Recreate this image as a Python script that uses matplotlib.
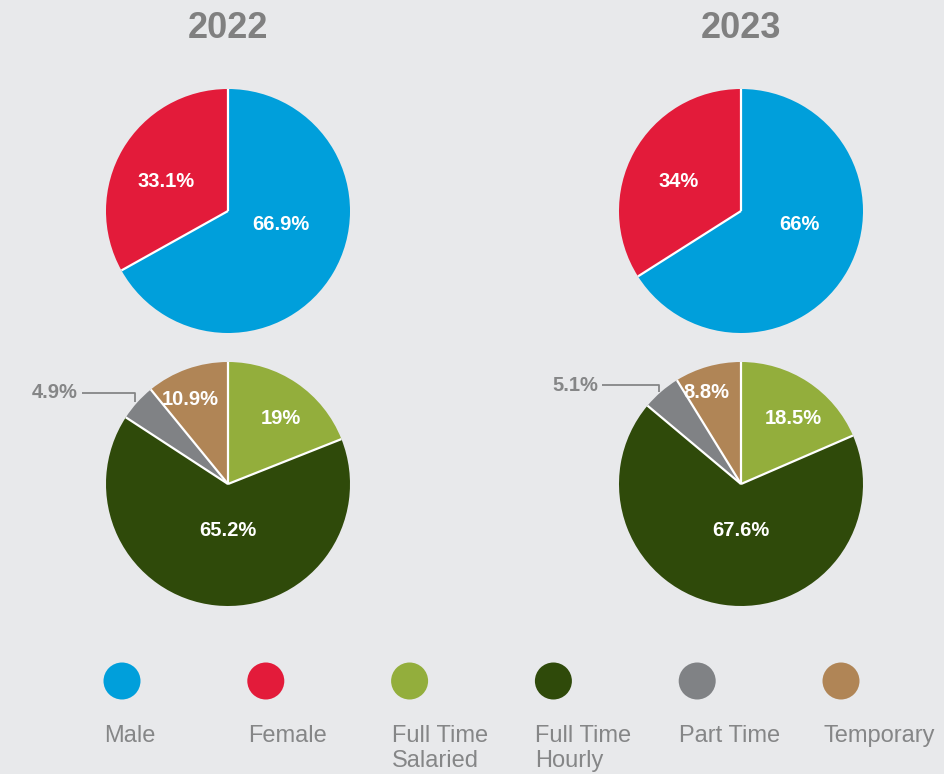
"""Workforce composition by year: gender and employment-type pies, 2022 vs 2023."""

import matplotlib

matplotlib.use("Agg")
import matplotlib.pyplot as plt  # noqa: E402
from matplotlib.patches import Circle  # noqa: E402
import numpy as np  # noqa: E402

YEARS = ["2022", "2023"]

GENDER_LABELS = ["Male", "Female"]
GENDER_2022 = [66.9, 33.1]
GENDER_2023 = [66, 34]

EMPLOY_LABELS = ["Full Time\nSalaried", "Full Time\nHourly", "Part Time", "Temporary"]
EMPLOY_2022 = [19, 65.2, 4.9, 10.9]
EMPLOY_2023 = [18.5, 67.6, 5.1, 8.8]

C_BG = "#E8E9EB"
C_TEXT = "#858687"
GENDER_COLORS = ["#009FDB", "#E31B3A"]
EMPLOY_COLORS = ["#93AE3C", "#2F4A0A", "#808285", "#B08556"]

W, H = 944, 774
R = 122
COL_X = [228, 741]
ROW_Y = [H - 211, H - 484]

# label offsets inside wedges, in pie-radius units (x right, y up)
GENDER_OFFS = [[(0.43, -0.11), (-0.51, 0.24)], [(0.48, -0.11), (-0.51, 0.24)]]
EMPLOY_OFFS = [[(0.43, 0.54), (0.0, -0.38), None, (-0.31, 0.69)],
               [(0.43, 0.54), (0.0, -0.38), None, (-0.28, 0.75)]]
# outside label for the thin "Part Time" slice
CALLOUT_OFFS = [(-1.23, 0.75), (-1.17, 0.81)]


def fmt(v):
    return f"{v:g}%"


def draw_pie(ax, values, colors, center, offs, callout=None):
    wedges, _ = ax.pie(values, colors=colors, center=center, radius=R,
                       startangle=90, counterclock=False, frame=True,
                       wedgeprops=dict(linewidth=0))
    cx, cy = center
    # white separators only between slices, no outer rim
    for w in wedges:
        a = np.deg2rad(w.theta1)
        ax.plot([cx, cx + R * np.cos(a)], [cy, cy + R * np.sin(a)],
                color="white", lw=1.6, solid_capstyle="butt")
    for w, v, off in zip(wedges, values, offs):
        if off is None:
            # thin slice: leader line out to the left
            mid = np.deg2rad((w.theta1 + w.theta2) / 2)
            px, py = cx + R * np.cos(mid), cy + R * np.sin(mid)
            tx, ty = cx + callout[0] * R, cy + callout[1] * R
            ax.plot([px - 2, px - 2, tx + 4], [py, ty, ty],
                    color=C_TEXT, lw=1.3, solid_capstyle="butt")
            ax.text(tx, ty, fmt(v), ha="right", va="center", fontsize=14.5,
                    fontweight="bold", color=C_TEXT)
            continue
        ax.text(cx + off[0] * R, cy + off[1] * R, fmt(v), ha="center",
                va="center", fontsize=14.5, fontweight="bold", color="white")


def main():
    plt.rcParams["font.family"] = ["Liberation Sans", "DejaVu Sans"]
    fig = plt.figure(figsize=(W / 100, H / 100), dpi=100, facecolor=C_BG)
    ax = fig.add_axes([0, 0, 1, 1])
    ax.set_facecolor(C_BG)

    gender = [GENDER_2022, GENDER_2023]
    employ = [EMPLOY_2022, EMPLOY_2023]
    for i, year in enumerate(YEARS):
        x = COL_X[i]
        ax.text(x, H - 28, year, ha="center", va="center", fontsize=26,
                fontweight="bold", color="#808080")
        draw_pie(ax, gender[i], GENDER_COLORS, (x, ROW_Y[0]), GENDER_OFFS[i])
        draw_pie(ax, employ[i], EMPLOY_COLORS, (x, ROW_Y[1]), EMPLOY_OFFS[i],
                 CALLOUT_OFFS[i])

    # legend row
    labels = GENDER_LABELS + EMPLOY_LABELS
    colors = GENDER_COLORS + EMPLOY_COLORS
    for k, (lab, col) in enumerate(zip(labels, colors)):
        lx = 122 + k * 143.8
        ax.add_patch(Circle((lx, H - 681), 18.5, color=col, lw=0))
        ax.text(lx - 18, H - 725, lab, ha="left", va="top", fontsize=17,
                color=C_TEXT, linespacing=1.15)

    ax.set_xlim(0, W)
    ax.set_ylim(0, H)
    ax.set_aspect("equal")
    ax.axis("off")
    fig.savefig("out.png", dpi=100, facecolor=C_BG)
    plt.close(fig)


if __name__ == "__main__":
    main()
